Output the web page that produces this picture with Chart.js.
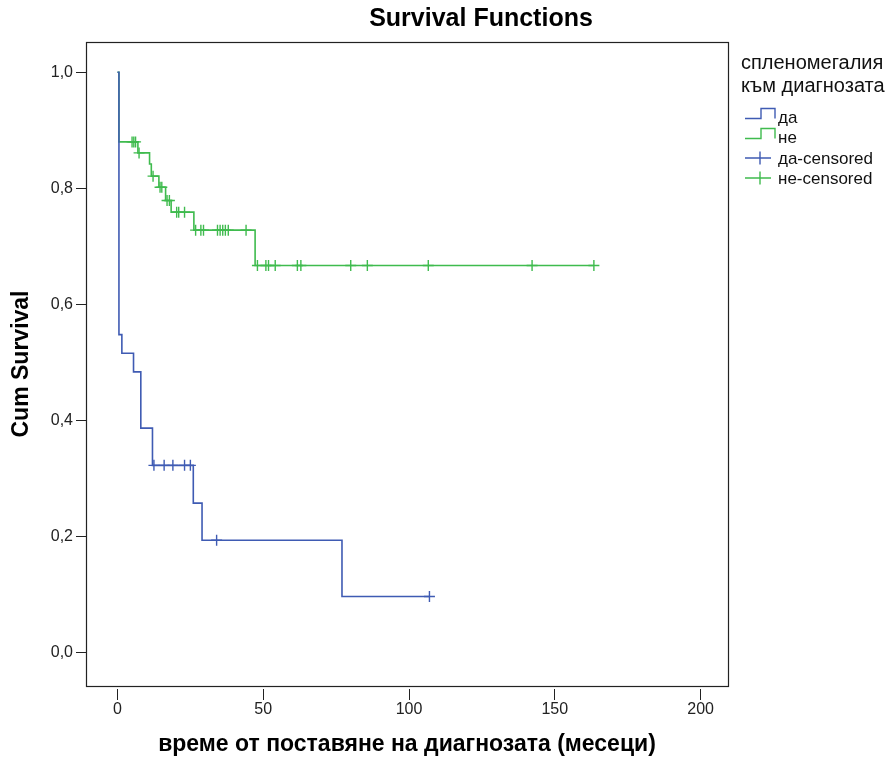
<!DOCTYPE html>
<html>
<head>
<meta charset="utf-8">
<script src="https://cdn.jsdelivr.net/npm/chart.js@4.4.1/dist/chart.umd.min.js"></script>
<style>
  html, body { margin: 0; padding: 0; background: #fff; }
  #wrap { position: relative; width: 888px; height: 758px; }
</style>
</head>
<body>
<div id="wrap"><canvas id="survChart" width="888" height="758"></canvas></div>
<script>
/* ================= DATA (months, cum survival) ================= */
const daTimes = [0, 0.5, 1.5, 5.5, 8, 12, 26, 29, 77, 107];
const daSurv  = [1, 0.548, 0.516, 0.484, 0.387, 0.323, 0.258, 0.194, 0.097, 0.097];
const daCensTimes = [12.5, 16, 19, 23, 25, 34, 107];
const daCensSurv  = [0.323, 0.323, 0.323, 0.323, 0.323, 0.194, 0.097];

const neTimes = [0, 0.5, 7, 11, 11.6, 14.2, 16.5, 18.4, 26.2, 47.2, 163.4];
const neSurv  = [1, 0.880, 0.861, 0.842, 0.821, 0.802, 0.779, 0.759, 0.728, 0.667, 0.667];
const neCensTimes = [5, 5.6, 6.2, 7.4, 12.2, 14.6, 15.2, 17, 17.8, 20.3, 21, 23,
  26.8, 28.6, 29.5, 34.3, 35.2, 36.1, 37, 38, 44.1,
  48, 50.9, 51.8, 54.1, 61.7, 62.9, 80, 85.7, 106.6, 142.2, 163.4];
const neCensSurv = [0.880, 0.880, 0.880, 0.861, 0.821, 0.802, 0.802, 0.779, 0.779, 0.759, 0.759, 0.759,
  0.728, 0.728, 0.728, 0.728, 0.728, 0.728, 0.728, 0.728, 0.728,
  0.667, 0.667, 0.667, 0.667, 0.667, 0.667, 0.667, 0.667, 0.667, 0.667, 0.667];

const xTicks = [0, 50, 100, 150, 200];
const yTicks = [0, 0.2, 0.4, 0.6, 0.8, 1.0];

const groupLabels = ["да", "не", "да-censored", "не-censored"];
const legendTitle = ["спленомегалия", "към диагнозата"];

const BLUE = "#3f5bb3";
const GREEN = "#3fbb4e";
const FONT = "'Liberation Sans', Arial, sans-serif";

const pts = (xs, ys) => xs.map((x, i) => ({ x, y: ys[i] }));

/* ================= PLUGINS ================= */
const frameAndText = {
  id: "frameAndText",
  afterDraw(chart) {
    const { ctx, chartArea: a } = chart;
    ctx.save();
    // plot frame
    ctx.strokeStyle = "#222";
    ctx.lineWidth = 1.2;
    ctx.strokeRect(Math.round(a.left) + 0.5, Math.round(a.top) + 0.5,
      Math.round(a.right - a.left), Math.round(a.bottom - a.top));

    // title
    ctx.fillStyle = "#000";
    ctx.font = "bold 25px " + FONT;
    ctx.textAlign = "center";
    ctx.textBaseline = "middle";
    ctx.fillText("Survival Functions", 481, 19);

    // legend
    ctx.textAlign = "left";
    ctx.fillStyle = "#111";
    ctx.font = "20px " + FONT;
    ctx.fillText(legendTitle[0], 741, 63);
    ctx.fillText(legendTitle[1], 741, 86);

    ctx.font = "17px " + FONT;
    const rows = [117, 137, 158, 178];
    const cols = [BLUE, GREEN, BLUE, GREEN];
    rows.forEach((y, i) => {
      ctx.strokeStyle = cols[i];
      ctx.lineWidth = 1.4;
      ctx.beginPath();
      if (i < 2) {
        ctx.moveTo(745, y + 1.5);
        ctx.lineTo(761, y + 1.5);
        ctx.lineTo(761, y - 8.5);
        ctx.lineTo(775, y - 8.5);
        ctx.lineTo(775, y + 1.5);
      } else {
        ctx.moveTo(745, y);
        ctx.lineTo(771, y);
        ctx.moveTo(760, y - 6.5);
        ctx.lineTo(760, y + 6.5);
      }
      ctx.stroke();
      ctx.fillText(groupLabels[i], 778, y + 1);
    });
    ctx.restore();
  }
};

/* ================= CHART ================= */
const stepLine = (label, data, color) => ({
  label, data,
  borderColor: color,
  borderWidth: 1.6,
  stepped: "before",
  showLine: true,
  pointRadius: 0,
  fill: false
});

const censMarks = (label, data, color) => ({
  label, data,
  showLine: false,
  pointStyle: "cross",
  pointRadius: 5.5,
  borderColor: color,
  borderWidth: 1.4,
  backgroundColor: color
});

new Chart(document.getElementById("survChart"), {
  type: "scatter",
  data: {
    datasets: [
      stepLine(groupLabels[0], pts(daTimes, daSurv), BLUE),
      stepLine(groupLabels[1], pts(neTimes, neSurv), GREEN),
      censMarks(groupLabels[2], pts(daCensTimes, daCensSurv), BLUE),
      censMarks(groupLabels[3], pts(neCensTimes, neCensSurv), GREEN)
    ]
  },
  options: {
    responsive: false,
    animation: false,
    layout: { padding: { left: 0, right: 160, top: 42, bottom: 0 } },
    plugins: {
      legend: { display: false },
      tooltip: { enabled: false }
    },
    scales: {
      x: {
        type: "linear",
        min: -10.8,
        max: 209.4,
        afterFit: s => { s.height = 72; },
        afterBuildTicks: s => { s.ticks = xTicks.map(v => ({ value: v })); },
        border: { display: false },
        grid: {
          drawOnChartArea: false,
          drawTicks: true,
          tickLength: 14,
          tickBorderDash: [0, 3, 11, 100],
          tickColor: "#222",
          tickWidth: 1
        },
        ticks: {
          padding: 0,
          color: "#222",
          font: { family: FONT, size: 16 },
          callback: v => String(v)
        },
        title: {
          display: true,
          text: "време от поставяне на диагнозата (месеци)",
          color: "#000",
          font: { family: FONT, size: 23, weight: "bold" },
          padding: { top: 0, bottom: 0 }
        }
      },
      y: {
        min: -0.057,
        max: 1.052,
        afterFit: s => { s.width = 86; },
        afterBuildTicks: s => { s.ticks = yTicks.map(v => ({ value: v })); },
        border: { display: false },
        grid: {
          drawOnChartArea: false,
          drawTicks: true,
          tickLength: 10,
          tickColor: "#222",
          tickWidth: 1
        },
        ticks: {
          padding: 3,
          color: "#222",
          font: { family: FONT, size: 16 },
          callback: v => v.toFixed(1).replace(".", ",")
        },
        title: {
          display: true,
          text: "Cum Survival",
          color: "#000",
          font: { family: FONT, size: 23, weight: "bold" },
          padding: { top: 8, bottom: 0 }
        }
      }
    }
  },
  plugins: [frameAndText]
});
</script>
</body>
</html>
